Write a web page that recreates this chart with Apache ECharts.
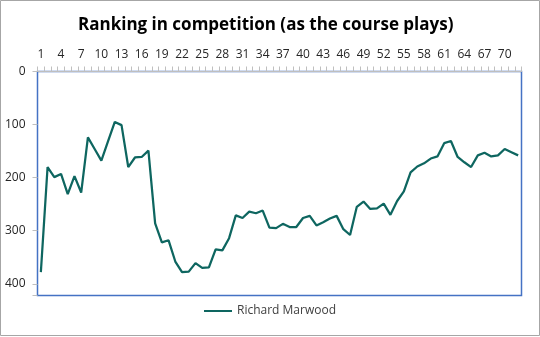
<!DOCTYPE html>
<html><head><meta charset="utf-8">
<script src="https://cdn.jsdelivr.net/npm/echarts@6/dist/echarts.min.js"></script>
<style>html,body{margin:0;padding:0;background:#fff}#c{width:540px;height:337px}</style>
</head><body><div id="c"></div>
<script>
const titleText = 'Ranking in competition (as the course plays)';
const seriesName = 'Richard Marwood';
const categories = [];
for (let i = 1; i <= 72; i++) categories.push(String(i));
const ranks = [378,180,199,193,231,197,228,124,146,168,131,95,101,180,162,161,149,286,322,318,
  358,378,377,361,370,369,335,337,314,271,276,264,267,262,294,295,287,293,293,276,
  272,290,284,277,272,297,308,255,245,259,258,249,270,244,226,190,179,173,164,160,
  135,131,161,171,180,158,153,160,158,146,152,158];
const yTicks = [0,100,200,300,400];

const chart = echarts.init(document.getElementById('c'), null, {renderer:'canvas'});
chart.setOption({
  animation:false,
  backgroundColor:'#fff',
  graphic:[{type:'rect', shape:{x:0.5,y:0.5,width:539,height:335}, style:{fill:'none',stroke:'#a6a6a6',lineWidth:1}, silent:true}],
  title:{text:titleText, left:73, top:12,
    textStyle:{fontFamily:'Open Sans', fontWeight:'bold', fontSize:17, color:'#000'}},
  legend:{bottom:15, left:'center', icon:'rect', itemWidth:28, itemHeight:2, itemGap:4,
    textStyle:{fontFamily:'Open Sans', fontSize:12, color:'#404040'},
    data:[seriesName]},
  grid:{left:37.5, right:18.5, top:71.5, bottom:41.5, show:true, borderColor:'#4472c4', borderWidth:1.5, containLabel:false},
  xAxis:{type:'category', position:'top', data:categories, boundaryGap:true,
    axisLine:{show:true, lineStyle:{color:'#bfbfbf'}},
    axisTick:{show:true, interval:0, length:5, lineStyle:{color:'#bfbfbf'}},
    axisLabel:{interval:2, color:'#262626', fontFamily:'Open Sans', fontSize:12, margin:11}},
  yAxis:{type:'value', inverse:true, min:0, max:422, interval:100,
    axisLine:{show:false},
    axisTick:{show:true, length:5, lineStyle:{color:'#bfbfbf'}},
    splitLine:{show:false},
    axisLabel:{color:'#262626', fontFamily:'Open Sans', fontSize:12, margin:12,
      formatter:v => yTicks.includes(v) ? String(v) : ''}},
  series:[{name:seriesName, type:'line', data:ranks, symbol:'none',
    lineStyle:{color:'#0e6660', width:2.25}, itemStyle:{color:'#0e6660'}}]
});
</script></body></html>
